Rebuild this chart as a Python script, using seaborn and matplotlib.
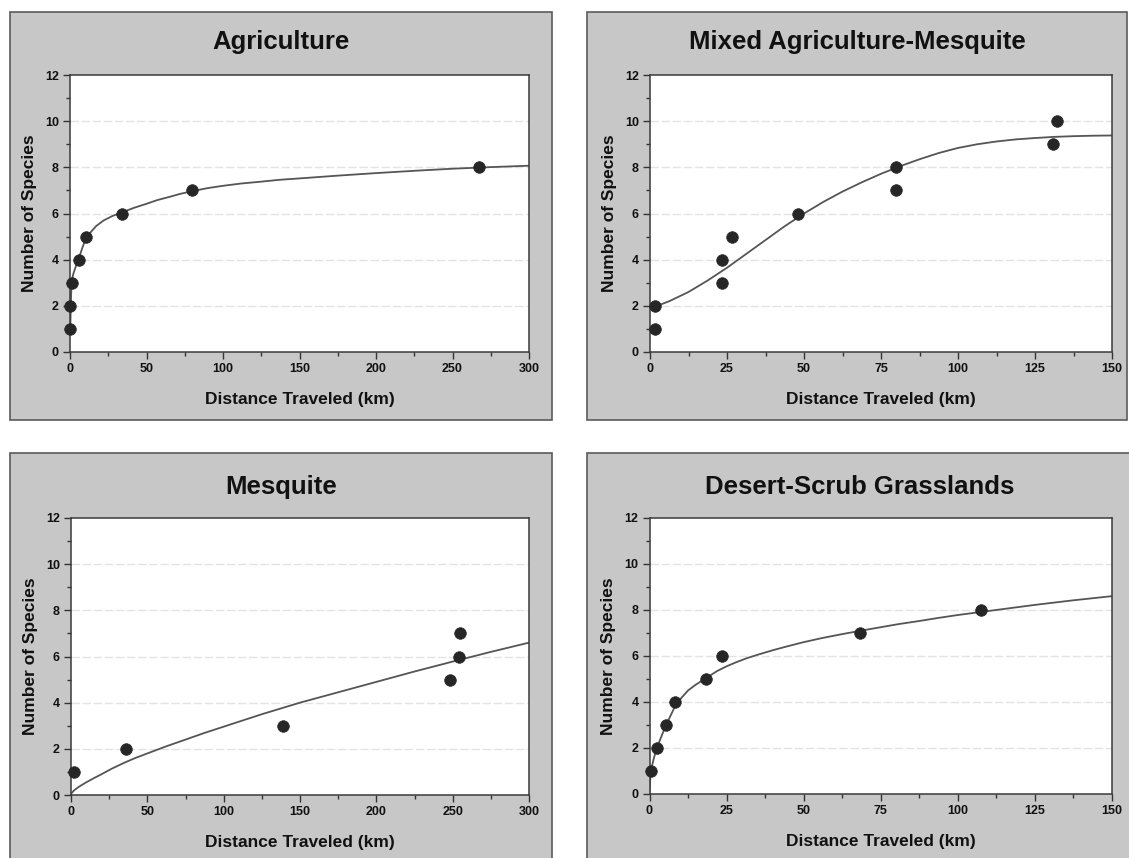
import numpy as np
import pandas as pd
import matplotlib
matplotlib.use("Agg")
import matplotlib.pyplot as plt
import seaborn as sns
from matplotlib.patches import Rectangle
from matplotlib.ticker import MultipleLocator

# ---------------- data ----------------
titles = ["Agriculture", "Mixed Agriculture-Mesquite", "Mesquite", "Desert-Scrub Grasslands"]
x_label = "Distance Traveled (km)"
y_label = "Number of Species"

agri_x = [0.3, 0.3, 1.0, 6.0, 10.5, 34.0, 80.0, 267.0]
agri_y = [1, 2, 3, 4, 5, 6, 7, 8]
agri_fit_x = [0.2, 0.5, 1, 2, 4, 6, 8, 10, 13, 17, 22, 28, 34, 42, 50, 57, 65, 72, 80, 90,
              100, 112, 125, 137, 150, 175, 200, 225, 250, 275, 300]
agri_fit_y = [1.0, 2.0, 3.0, 3.35, 3.75, 4.1, 4.5, 4.85, 5.15, 5.45, 5.7, 5.9, 6.05,
              6.25, 6.42, 6.58, 6.72, 6.85, 6.97, 7.1, 7.2, 7.3, 7.38, 7.46, 7.52, 7.64,
              7.75, 7.85, 7.94, 8.01, 8.07]

mixed_x = [1.5, 1.5, 23.5, 23.5, 26.5, 48.0, 80.0, 80.0, 131.0, 132.0]
mixed_y = [2, 1, 4, 3, 5, 6, 8, 7, 9, 10]
mixed_fit_x = [0, 6.25, 12.5, 18.75, 25, 31.25, 37.5, 43.75, 50, 56.25, 62.5, 68.75,
               75, 81.25, 87.5, 93.75, 100, 106.25, 112.5, 118.75, 125, 131.25, 137.5,
               143.75, 150]
mixed_fit_y = [1.88, 2.2, 2.6, 3.1, 3.65, 4.25, 4.85, 5.45, 6.0, 6.5, 6.95, 7.35,
               7.72, 8.05, 8.35, 8.62, 8.84, 9.0, 9.12, 9.21, 9.27, 9.32, 9.35, 9.37, 9.38]

mesq_x = [2.0, 36.0, 139.0, 248.0, 254.0, 255.0]
mesq_y = [1, 2, 3, 5, 6, 7]
mesq_fit_x = [0, 2, 5, 10, 15, 20, 27, 35, 42, 50, 62, 75, 87, 100, 125, 150, 175, 200,
              225, 250, 275, 300]
mesq_fit_y = [0.05, 0.2, 0.35, 0.55, 0.73, 0.9, 1.15, 1.4, 1.6, 1.8, 2.1, 2.4, 2.68,
              2.96, 3.5, 4.0, 4.45, 4.9, 5.35, 5.78, 6.2, 6.6]

desert_x = [0.4, 2.4, 5.4, 8.4, 18.5, 23.6, 68.5, 107.5]
desert_y = [1, 2, 3, 4, 5, 6, 7, 8]
desert_fit_x = [0, 0.4, 1.5, 2.4, 4, 5.4, 7, 8.4, 10.5, 12.5, 15, 18.5, 22, 25, 28,
                31.5, 35, 40, 45, 50, 56, 62.5, 69, 75, 81, 87.5, 94, 100, 112.5, 125,
                137.5, 150]
desert_fit_y = [0.1, 1.0, 1.6, 2.0, 2.55, 3.0, 3.45, 3.85, 4.2, 4.5, 4.75, 5.05, 5.35,
                5.55, 5.72, 5.9, 6.05, 6.25, 6.43, 6.6, 6.78, 6.95, 7.11, 7.25, 7.39,
                7.52, 7.66, 7.78, 8.0, 8.22, 8.42, 8.6]

x_ranges = [300, 150, 300, 150]
x_major = [50, 25, 50, 25]
y_max = 12

# ---------------- style ----------------
sns.set_theme(style="white")
plt.rcParams["font.family"] = ["Liberation Sans", "DejaVu Sans"]

W, H = 1129, 858
fig = plt.figure(figsize=(W / 100, H / 100), dpi=100)
fig.patch.set_facecolor("white")

panel_bg = "#c7c7c7"
panel_edge = "#5a5a5a"
# panel boxes in pixel coords (left, top, right, bottom)
boxes = [(10, 12, 552, 420), (587, 12, 1127, 420), (10, 453, 552, 862), (587, 453, 1133, 862)]
# axes in pixel coords (left, top, right, bottom)
axes_px = [(70, 75, 529, 352), (650, 75, 1112, 352), (71, 518, 529, 795), (649.5, 518, 1111.5, 794)]
title_y = [42, 42, 487, 487]

datasets = [
    (agri_x, agri_y, agri_fit_x, agri_fit_y),
    (mixed_x, mixed_y, mixed_fit_x, mixed_fit_y),
    (mesq_x, mesq_y, mesq_fit_x, mesq_fit_y),
    (desert_x, desert_y, desert_fit_x, desert_fit_y),
]

for i in range(4):
    l, t, r, b = boxes[i]
    fig.patches.append(Rectangle((l / W, 1 - b / H), (r - l) / W, (b - t) / H,
                                 transform=fig.transFigure, facecolor=panel_bg,
                                 edgecolor=panel_edge, linewidth=1.2, zorder=-10))
    fig.text((l + r) / 2 / W, 1 - title_y[i] / H, titles[i], ha="center", va="center",
             fontsize=18.5, fontweight="bold", color="#111111")

    al, at, ar, ab = axes_px[i]
    ax = fig.add_axes([al / W, 1 - ab / H, (ar - al) / W, (ab - at) / H])
    ax.set_zorder(5)
    ax.set_facecolor("white")

    px, py, fx, fy = datasets[i]
    pts = pd.DataFrame({"x": px, "y": py})
    fit = pd.DataFrame({"x": fx, "y": fy})

    for g in range(2, 12, 2):
        ax.axhline(g, color="#e3e3e3", linewidth=1.0, linestyle=(0, (6, 2)), zorder=0)

    sns.lineplot(data=fit, x="x", y="y", ax=ax, color="#555555", linewidth=1.3,
                 sort=False, zorder=2)
    sns.scatterplot(data=pts, x="x", y="y", ax=ax, color="#262626", s=70,
                    edgecolor="#262626", linewidth=0.5, zorder=3, clip_on=False)

    ax.set_xlim(0, x_ranges[i])
    ax.set_ylim(0, y_max)
    ax.xaxis.set_major_locator(MultipleLocator(x_major[i]))
    ax.xaxis.set_minor_locator(MultipleLocator(x_major[i] / 2))
    ax.yaxis.set_major_locator(MultipleLocator(2))
    ax.yaxis.set_minor_locator(MultipleLocator(1))
    ax.tick_params(axis="both", which="both", direction="out", bottom=True, left=True,
                   top=False, right=False, color="#333333", width=1.0)
    ax.tick_params(axis="both", which="major", length=5, labelsize=9, pad=3,
                   labelcolor="#111111")
    ax.tick_params(axis="both", which="minor", length=3)
    for lab in ax.get_xticklabels() + ax.get_yticklabels():
        lab.set_fontweight("bold")
    for sp in ax.spines.values():
        sp.set_color("#3a3a3a")
        sp.set_linewidth(1.1)

    ax.set_xlabel(x_label, fontsize=12.5, fontweight="bold", color="#111111", labelpad=12)
    ax.set_ylabel(y_label, fontsize=12.5, fontweight="bold", color="#111111", labelpad=6)

fig.savefig("out.png", dpi=100, facecolor=fig.get_facecolor())
